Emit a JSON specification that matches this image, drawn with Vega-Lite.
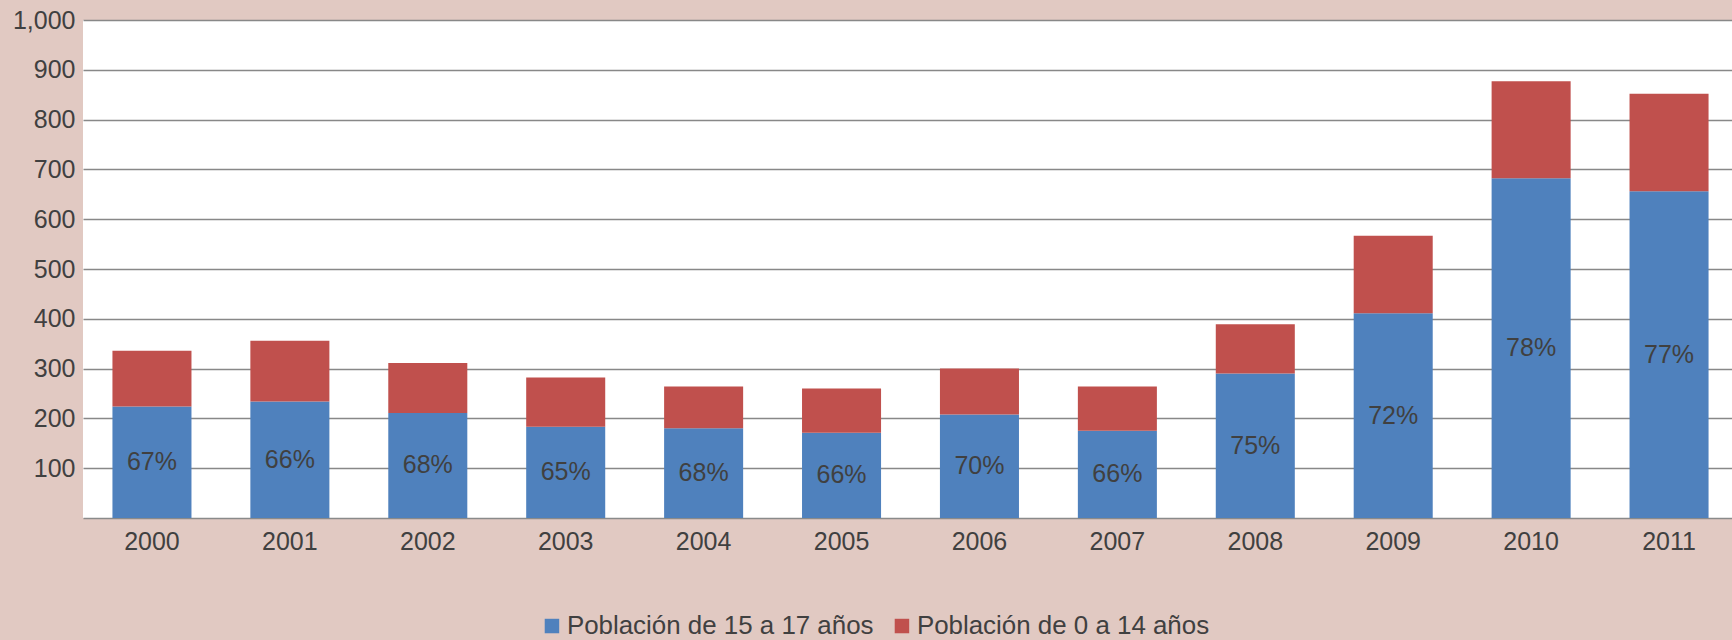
{
  "$schema": "https://vega.github.io/schema/vega-lite/v6.json",
  "width": 1649,
  "height": 498,
  "autosize": {"type": "none"},
  "padding": {"left": 83, "top": 20, "right": 0, "bottom": 122},
  "background": "#e1c9c2",
  "config": {
    "font": "Liberation Sans",
    "view": {"fill": "white", "stroke": null},
    "axis": {"labelFont": "Liberation Sans", "labelColor": "#404040", "labelFontSize": 25, "ticks": false, "title": null},
    "legend": {"labelFont": "Liberation Sans"}
  },
  "data": {
    "values": [
      {"year": "2000", "series": "Población de 15 a 17 años", "value": 224, "pct": "67%"},
      {"year": "2000", "series": "Población de 0 a 14 años", "value": 112},
      {"year": "2001", "series": "Población de 15 a 17 años", "value": 234, "pct": "66%"},
      {"year": "2001", "series": "Población de 0 a 14 años", "value": 122},
      {"year": "2002", "series": "Población de 15 a 17 años", "value": 211, "pct": "68%"},
      {"year": "2002", "series": "Población de 0 a 14 años", "value": 100},
      {"year": "2003", "series": "Población de 15 a 17 años", "value": 183, "pct": "65%"},
      {"year": "2003", "series": "Población de 0 a 14 años", "value": 99},
      {"year": "2004", "series": "Población de 15 a 17 años", "value": 180, "pct": "68%"},
      {"year": "2004", "series": "Población de 0 a 14 años", "value": 84},
      {"year": "2005", "series": "Población de 15 a 17 años", "value": 171, "pct": "66%"},
      {"year": "2005", "series": "Población de 0 a 14 años", "value": 89},
      {"year": "2006", "series": "Población de 15 a 17 años", "value": 208, "pct": "70%"},
      {"year": "2006", "series": "Población de 0 a 14 años", "value": 92},
      {"year": "2007", "series": "Población de 15 a 17 años", "value": 175, "pct": "66%"},
      {"year": "2007", "series": "Población de 0 a 14 años", "value": 89},
      {"year": "2008", "series": "Población de 15 a 17 años", "value": 290, "pct": "75%"},
      {"year": "2008", "series": "Población de 0 a 14 años", "value": 99},
      {"year": "2009", "series": "Población de 15 a 17 años", "value": 411, "pct": "72%"},
      {"year": "2009", "series": "Población de 0 a 14 años", "value": 156},
      {"year": "2010", "series": "Población de 15 a 17 años", "value": 682, "pct": "78%"},
      {"year": "2010", "series": "Población de 0 a 14 años", "value": 195},
      {"year": "2011", "series": "Población de 15 a 17 años", "value": 656, "pct": "77%"},
      {"year": "2011", "series": "Población de 0 a 14 años", "value": 196}
    ]
  },
  "encoding": {
    "x": {
      "field": "year",
      "type": "ordinal",
      "scale": {"range": [0, 1655], "paddingInner": 0.427, "paddingOuter": 0.2135},
      "axis": {"labelAngle": 0, "labelPadding": 11, "domainColor": "#8a8a8a", "domainWidth": 1.5, "grid": false}
    }
  },
  "layer": [
    {
      "mark": {"type": "bar"},
      "encoding": {
        "y": {
          "field": "value",
          "type": "quantitative",
          "stack": "zero",
          "scale": {"domain": [0, 1000]},
          "axis": {
            "values": [100, 200, 300, 400, 500, 600, 700, 800, 900, 1000],
            "format": ",d",
            "labelPadding": 8,
            "domain": false,
            "grid": true,
            "gridColor": "#888888",
            "gridWidth": 1.5,
            "gridOpacity": 1
          }
        },
        "color": {
          "field": "series",
          "type": "nominal",
          "scale": {
            "domain": ["Población de 15 a 17 años", "Población de 0 a 14 años"],
            "range": ["#4f81bd", "#c0504d"]
          },
          "legend": {
            "orient": "none",
            "legendX": 456,
            "legendY": 593,
            "direction": "horizontal",
            "title": null,
            "symbolType": "square",
            "symbolSize": 210,
            "symbolStrokeWidth": 0,
            "labelFontSize": 25.9,
            "labelColor": "#404040",
            "labelOffset": 2,
            "columnPadding": 15,
            "labelLimit": 400
          }
        },
        "order": {"field": "series", "sort": "descending"}
      }
    },
    {
      "transform": [
        {"filter": {"field": "series", "equal": "Población de 15 a 17 años"}},
        {"calculate": "datum.value / 2", "as": "mid"}
      ],
      "mark": {"type": "text", "fontSize": 25, "color": "#404040", "baseline": "middle", "align": "center"},
      "encoding": {
        "y": {"field": "mid", "type": "quantitative"},
        "text": {"field": "pct", "type": "nominal"}
      }
    }
  ]
}
